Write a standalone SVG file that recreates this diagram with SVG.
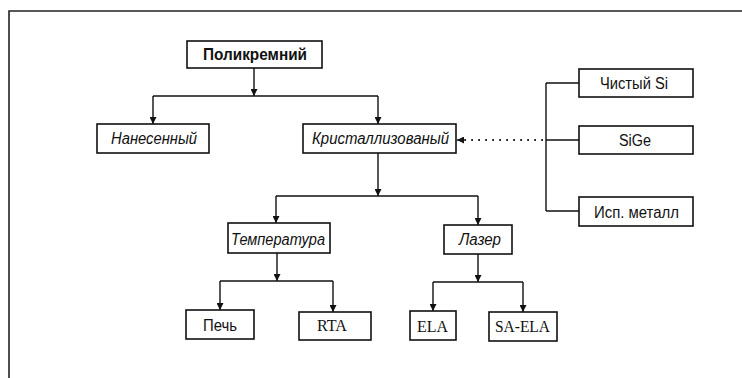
<svg xmlns="http://www.w3.org/2000/svg" width="742" height="378" viewBox="0 0 742 378">
  <defs>
    <marker id="arr" viewBox="0 0 8 8" refX="8" refY="4" markerWidth="7" markerHeight="7" markerUnits="userSpaceOnUse" orient="auto">
      <path d="M0,0 L8,4 L0,8 Z" fill="#111"/>
    </marker>
  </defs>
  <style>
    .box { fill: #fff; stroke: #111; stroke-width: 1.6; }
    .ln { fill: none; stroke: #111; stroke-width: 1.4; }
    .dot { fill: none; stroke: #222; stroke-width: 1.8; stroke-dasharray: 1.8 5.2; }
    .s { font-family: "Liberation Sans", Arial, sans-serif; font-size: 16px; fill: #111; }
    .i { font-style: italic; }
    .b { font-weight: bold; font-size: 17px; }
    .t { font-family: "Liberation Serif", "Times New Roman", serif; font-size: 17px; fill: #111; }
  </style>
  <rect width="742" height="378" fill="#fff"/>
  <!-- outer frame -->
  <path d="M9,378 V11 H742" fill="none" stroke="#222" stroke-width="1.6"/>

  <g id="connectors">
    <path class="ln" d="M254,68 V96" marker-end="url(#arr)"/>
    <path class="ln" d="M153,96 H378"/>
    <path class="ln" d="M153,96 V124" marker-end="url(#arr)"/>
    <path class="ln" d="M378,96 V124" marker-end="url(#arr)"/>
    <path class="ln" d="M546,83 V211 M546,83 H579 M546,140 H579 M546,211 H579"/>
    <path class="dot" d="M543,140 H464"/>
    <path class="ln" d="M464,140 H457" marker-end="url(#arr)"/>
    <path class="ln" d="M378,153 V196" marker-end="url(#arr)"/>
    <path class="ln" d="M276,196 H478"/>
    <path class="ln" d="M276,196 V223" marker-end="url(#arr)"/>
    <path class="ln" d="M478,196 V225" marker-end="url(#arr)"/>
    <path class="ln" d="M277,253 V281" marker-end="url(#arr)"/>
    <path class="ln" d="M220,281 H333"/>
    <path class="ln" d="M220,281 V310" marker-end="url(#arr)"/>
    <path class="ln" d="M333,281 V312" marker-end="url(#arr)"/>
    <path class="ln" d="M478,254 V282" marker-end="url(#arr)"/>
    <path class="ln" d="M433,282 H523"/>
    <path class="ln" d="M433,282 V311" marker-end="url(#arr)"/>
    <path class="ln" d="M523,282 V312" marker-end="url(#arr)"/>
  </g>

  <g id="polysilicon">
    <rect class="box" x="187" y="41" width="135" height="27"/>
    <text class="s b" x="203" y="60" textLength="104" lengthAdjust="spacingAndGlyphs">Поликремний</text>
  </g>
  <g id="deposited">
    <rect class="box" x="97" y="124" width="112" height="29"/>
    <text class="s i" x="111" y="144" textLength="86" lengthAdjust="spacingAndGlyphs">Нанесенный</text>
  </g>
  <g id="crystallized">
    <rect class="box" x="303" y="124" width="153" height="29"/>
    <text class="s i" x="312" y="144" textLength="137" lengthAdjust="spacingAndGlyphs">Кристаллизованый</text>
  </g>
  <g id="pure-si">
    <rect class="box" x="579" y="69" width="114" height="28"/>
    <text class="s" x="600" y="89" textLength="68" lengthAdjust="spacingAndGlyphs">Чистый Si</text>
  </g>
  <g id="sige">
    <rect class="box" x="579" y="126" width="114" height="28"/>
    <text class="s" x="619" y="146" textLength="32" lengthAdjust="spacingAndGlyphs">SiGe</text>
  </g>
  <g id="metal">
    <rect class="box" x="579" y="197" width="114" height="29"/>
    <text class="s" x="594" y="218" textLength="85" lengthAdjust="spacingAndGlyphs">Исп. металл</text>
  </g>
  <g id="temperature">
    <rect class="box" x="228" y="223" width="102" height="30"/>
    <text class="s i" x="231" y="245" textLength="94" lengthAdjust="spacingAndGlyphs">Температура</text>
  </g>
  <g id="laser">
    <rect class="box" x="444" y="225" width="68" height="29"/>
    <text class="s i" x="459" y="245" textLength="42" lengthAdjust="spacingAndGlyphs">Лазер</text>
  </g>
  <g id="furnace">
    <rect class="box" x="186" y="310" width="68" height="29"/>
    <text class="s" x="203" y="331" textLength="34" lengthAdjust="spacingAndGlyphs">Печь</text>
  </g>
  <g id="rta">
    <rect class="box" x="299" y="312" width="72" height="28"/>
    <text class="t" x="317" y="331" textLength="30" lengthAdjust="spacingAndGlyphs">RTA</text>
  </g>
  <g id="ela">
    <rect class="box" x="410" y="311" width="46" height="29"/>
    <text class="t" x="417" y="332" textLength="31" lengthAdjust="spacingAndGlyphs">ELA</text>
  </g>
  <g id="sa-ela">
    <rect class="box" x="489" y="312" width="68" height="29"/>
    <text class="t" x="495" y="332" textLength="55" lengthAdjust="spacingAndGlyphs">SA-ELA</text>
  </g>
</svg>
